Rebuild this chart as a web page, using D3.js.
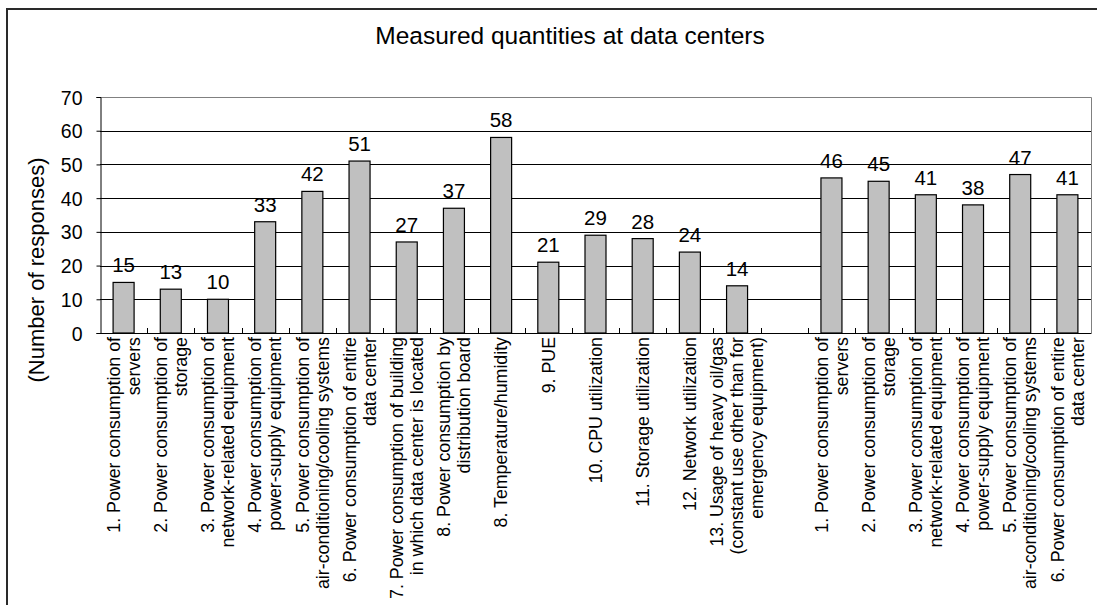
<!DOCTYPE html>
<html>
<head>
<meta charset="utf-8">
<script src="https://cdn.jsdelivr.net/npm/d3@7"></script>
<style>
  html, body { margin: 0; padding: 0; background: #fff; }
  svg { display: block; font-family: "Liberation Sans", Arial, sans-serif; }
</style>
</head>
<body>
<svg id="chart" width="1097" height="605"></svg>
<script>
const title = "Measured quantities at data centers";
const yAxisTitle = "(Number of responses)";
const categories = [
  "1. Power consumption of\nservers",
  "2. Power consumption of\nstorage",
  "3. Power consumption of\nnetwork-related equipment",
  "4. Power consumption of\npower-supply equipment",
  "5. Power consumption of\nair-conditioning/cooling systems",
  "6. Power consumption of entire\ndata center",
  "7. Power consumption of building\nin which data center is located",
  "8. Power consumption by\ndistribution board",
  "8. Temperature/humidity",
  "9. PUE",
  "10. CPU utilization",
  "11. Storage utilization",
  "12. Network utilization",
  "13. Usage of heavy oil/gas\n(constant use other than for\nemergency equipment)",
  "",
  "1. Power consumption of\nservers",
  "2. Power consumption of\nstorage",
  "3. Power consumption of\nnetwork-related equipment",
  "4. Power consumption of\npower-supply equipment",
  "5. Power consumption of\nair-conditioning/cooling systems",
  "6. Power consumption of entire\ndata center"
];
const values = [15, 13, 10, 33, 42, 51, 27, 37, 58, 21, 29, 28, 24, 14, null, 46, 45, 41, 38, 47, 41];
const yTicks = [0, 10, 20, 30, 40, 50, 60, 70];

const svg = d3.select("#chart");
const plot = { left: 100, right: 1091, top: 97, bottom: 333 };

// outer frame
svg.append("rect")
  .attr("x", 7).attr("y", 9)
  .attr("width", 1200).attr("height", 700)
  .attr("fill", "none").attr("stroke", "#2a2a2a").attr("stroke-width", 2);

const idx = d3.range(categories.length);
const x = d3.scaleBand().domain(idx).range([plot.left, plot.right]).paddingInner(0).paddingOuter(0);
const y = d3.scaleLinear().domain([0, 70]).range([plot.bottom, plot.top]);

// title
svg.append("text")
  .attr("x", 570).attr("y", 44)
  .attr("text-anchor", "middle")
  .attr("font-size", 24.5)
  .attr("fill", "#000")
  .text(title);

// gridlines
svg.append("g")
  .selectAll("line")
  .data(yTicks.filter(d => d > 0 && d < 70))
  .join("line")
  .attr("x1", plot.left).attr("x2", plot.right)
  .attr("y1", d => Math.round(y(d)) + 0.5).attr("y2", d => Math.round(y(d)) + 0.5)
  .attr("stroke", "#000").attr("stroke-width", 1);

// plot border (top/right) gray
svg.append("path")
  .attr("d", `M${plot.left},${Math.round(y(70)) + 0.5}H${plot.right + 0.5}V${plot.bottom}`)
  .attr("fill", "none").attr("stroke", "#808080").attr("stroke-width", 1);

// bars
const barW = x.bandwidth() * 0.445;
svg.append("g")
  .selectAll("rect")
  .data(idx.filter(i => values[i] != null))
  .join("rect")
  .attr("x", i => x(i) + (x.bandwidth() - barW) / 2)
  .attr("y", i => y(values[i]))
  .attr("width", barW)
  .attr("height", i => y(0) - y(values[i]))
  .attr("fill", "#c0c0c0")
  .attr("stroke", "#000")
  .attr("stroke-width", 1.2);

// value labels
svg.append("g")
  .selectAll("text")
  .data(idx.filter(i => values[i] != null))
  .join("text")
  .attr("x", i => x(i) + x.bandwidth() / 2)
  .attr("y", i => y(values[i]) - 10)
  .attr("text-anchor", "middle")
  .attr("font-size", 20.5)
  .text(i => values[i]);

// y axis
const yAxis = d3.axisLeft(y).tickValues(yTicks).tickSize(4).tickPadding(14);
const gy = svg.append("g").attr("transform", `translate(${plot.left + 0.5},0)`).call(yAxis);
gy.select(".domain").attr("stroke", "#000");
gy.selectAll(".tick line").attr("stroke", "#000");
gy.selectAll(".tick text").attr("font-size", 19.5).attr("font-family", "Liberation Sans, Arial, sans-serif").attr("fill", "#000").attr("dy", "0.36em");

// x axis baseline
svg.append("line")
  .attr("x1", plot.left).attr("x2", plot.right + 0.5)
  .attr("y1", plot.bottom + 0.5).attr("y2", plot.bottom + 0.5)
  .attr("stroke", "#000").attr("stroke-width", 1.2);

// x category boundary ticks (pointing up)
svg.append("g")
  .selectAll("line")
  .data(d3.range(1, categories.length))
  .join("line")
  .attr("x1", i => Math.round(x(i)) + 0.5).attr("x2", i => Math.round(x(i)) + 0.5)
  .attr("y1", plot.bottom - 5).attr("y2", plot.bottom)
  .attr("stroke", "#000");

// category labels (rotated, multi-line)
const lineGap = 20;
const labelTop = 337;
const lg = svg.append("g");
idx.forEach(i => {
  if (!categories[i]) return;
  const lines = categories[i].split("\n");
  const cx = x(i) + x.bandwidth() / 2;
  lines.forEach((ln, k) => {
    const lx = cx + (k - (lines.length - 1) / 2) * lineGap;
    lg.append("text")
      .attr("transform", `translate(${lx},${labelTop}) rotate(-90)`)
      .attr("text-anchor", "end")
      .attr("dy", "0.35em")
      .attr("font-size", 17.8)
      .text(ln);
  });
});

// y axis title
svg.append("text")
  .attr("transform", `translate(36,270) rotate(-90)`)
  .attr("text-anchor", "middle")
  .attr("dy", "0.35em")
  .attr("font-size", 22)
  .text(yAxisTitle);
</script>
</body>
</html>
